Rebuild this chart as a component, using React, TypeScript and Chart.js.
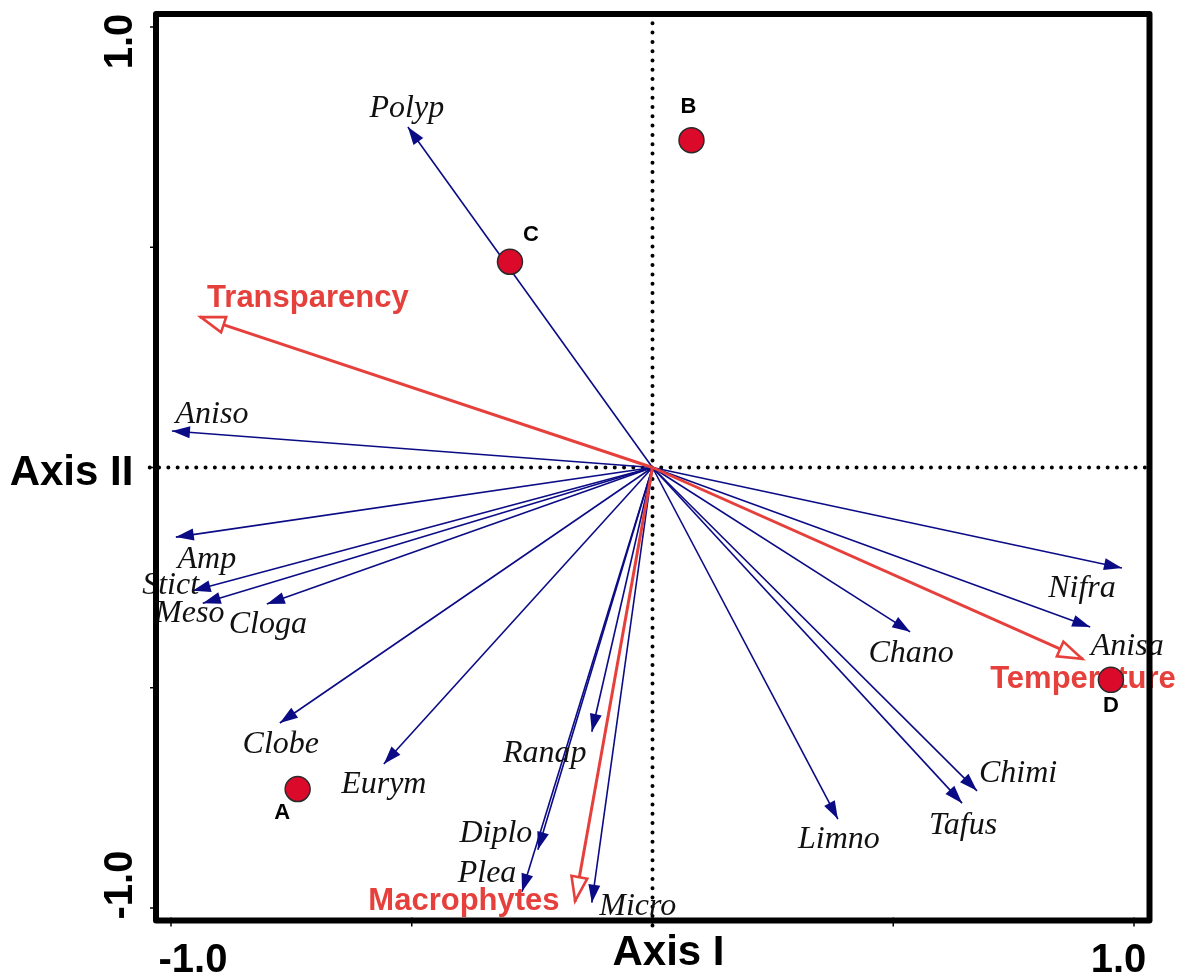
import React, { useEffect, useRef } from 'react';
import { Chart, registerables } from 'chart.js';

Chart.register(...registerables);

// ---- Data ----
const speciesNames = ['Polyp', 'Aniso', 'Amp', 'Stict', 'Meso', 'Cloga', 'Clobe', 'Eurym', 'Ranap', 'Diplo', 'Plea', 'Micro', 'Limno', 'Tafus', 'Chimi', 'Chano', 'Nifra', 'Anisa'];
const speciesAxis1 = [-0.508, -0.998, -0.990, -0.955, -0.934, -0.801, -0.774, -0.558, -0.126, -0.238, -0.271, -0.126, 0.385, 0.643, 0.674, 0.535, 0.975, 0.909];
const speciesAxis2 = [0.773, 0.083, -0.158, -0.280, -0.308, -0.310, -0.580, -0.673, -0.600, -0.868, -0.963, -0.988, -0.798, -0.762, -0.734, -0.373, -0.228, -0.362];

const envNames = ['Transparency', 'Temperature', 'Macrophytes'];
const envAxis1 = [-0.940, 0.894, -0.161];
const envAxis2 = [0.342, -0.435, -0.986];

const siteNames = ['A', 'B', 'C', 'D'];
const siteAxis1 = [-0.737, 0.081, -0.296, 0.952];
const siteAxis2 = [-0.730, 0.743, 0.467, -0.482];

const tickValues = [-1, -0.5, 0, 0.5, 1];
const tickLabelValues = [-1, 1];
const tickLabelTexts = ['-1.0', '1.0'];
const xTitle = 'Axis I';
const yTitle = 'Axis II';

// ---- Layout / style (pixel offsets of labels from their point) ----
const X_MIN = -1.03115;
const X_MAX = 1.03219;
const Y_MIN = -1.02838;
const Y_MAX = 1.02951;

const speciesLabelOffsets = [
  [-1, -10], [40, -8], [31, 31], [-22, 3], [-13, 19], [1, 29], [1, 30], [0, 29], [-47, 30],
  [-42, -8], [-35, -10], [46, 12], [1, 29], [1, 31], [41, -9], [1, 30], [-40, 29], [37, 28],
];
const envLabelOffsets = [[108, -10], [0, 29], [-111, 8]];
const siteLabelOffsets = [[-15.5, 30], [-3, -27], [21, -21], [0, 32]];

const NAVY = '#0b0b86';
const RED = '#e6403c';
const SITE_FILL = '#dc0a2a';

const biplotPlugin = {
  id: 'biplot',
  beforeDatasetDraw(chart: any, args: any) {
    const ds: any = chart.data.datasets[args.index];
    if (!ds.isSites) return;
    // species and environmental labels go under the site symbols
    const ctx = chart.ctx;
    ctx.save();
    chart.data.datasets.forEach((d: any, i: number) => {
      if (!d.arrowKind) return;
      const meta = chart.getDatasetMeta(i);
      const tip = meta.data[1];
      const off = d.labelOffset;
      ctx.textAlign = 'center';
      ctx.textBaseline = 'alphabetic';
      if (d.arrowKind === 'species') {
        ctx.font = "italic 32px 'Liberation Serif', 'DejaVu Serif', serif";
        ctx.fillStyle = '#111';
      } else {
        ctx.font = "bold 31px 'Liberation Sans', Arial, sans-serif";
        ctx.fillStyle = RED;
      }
      ctx.fillText(d.label, tip.x + off[0], tip.y + off[1]);
    });
    ctx.restore();
  },
  afterDatasetDraw(chart: any, args: any) {
    const ds: any = chart.data.datasets[args.index];
    const ctx = chart.ctx;
    if (ds.arrowKind) {
      const p0 = args.meta.data[0];
      const p1 = args.meta.data[1];
      const ang = Math.atan2(p1.y - p0.y, p1.x - p0.x);
      ctx.save();
      ctx.translate(p1.x, p1.y);
      ctx.rotate(ang);
      ctx.beginPath();
      if (ds.arrowKind === 'species') {
        ctx.moveTo(0, 0);
        ctx.lineTo(-18, -6);
        ctx.lineTo(-18, 6);
        ctx.closePath();
        ctx.fillStyle = NAVY;
        ctx.fill();
      } else {
        ctx.moveTo(-1, 0);
        ctx.lineTo(-25, -8);
        ctx.lineTo(-25, 8);
        ctx.closePath();
        ctx.fillStyle = '#fff';
        ctx.fill();
        ctx.lineWidth = 2.6;
        ctx.lineJoin = 'miter';
        ctx.strokeStyle = RED;
        ctx.stroke();
      }
      ctx.restore();
    }
    if (ds.isSites) {
      ctx.save();
      ctx.font = "bold 22px 'Liberation Sans', Arial, sans-serif";
      ctx.fillStyle = '#000';
      ctx.textAlign = 'center';
      ctx.textBaseline = 'alphabetic';
      args.meta.data.forEach((pt: any, i: number) => {
        const off = siteLabelOffsets[i];
        ctx.fillText(siteNames[i], pt.x + off[0], pt.y + off[1]);
      });
      ctx.restore();
    }
  },
  afterDraw(chart: any) {
    const ctx = chart.ctx;
    const a = chart.chartArea;
    const xs = chart.scales.x;
    const ys = chart.scales.y;
    ctx.save();
    // frame
    ctx.lineWidth = 6;
    ctx.lineJoin = 'round';
    ctx.strokeStyle = '#000';
    ctx.strokeRect(a.left, a.top, a.right - a.left, a.bottom - a.top);
    // tick marks
    ctx.lineWidth = 1.5;
    tickValues.forEach((v) => {
      const py = ys.getPixelForValue(v);
      ctx.beginPath();
      ctx.moveTo(a.left - 6, py);
      ctx.lineTo(a.left + 3, py);
      ctx.stroke();
      const px = xs.getPixelForValue(v);
      ctx.beginPath();
      ctx.moveTo(px, a.bottom - 3);
      ctx.lineTo(px, a.bottom + 6);
      ctx.stroke();
    });
    // tick labels
    ctx.fillStyle = '#000';
    ctx.font = "bold 40px 'Liberation Sans', Arial, sans-serif";
    ctx.textAlign = 'center';
    ctx.textBaseline = 'alphabetic';
    const xLabelShift = [22, -15.5];
    const yLabelShift = [-23, 14.5];
    tickLabelValues.forEach((v, i) => {
      const px = xs.getPixelForValue(v);
      ctx.fillText(tickLabelTexts[i], px + xLabelShift[i], a.bottom + 51.5);
      const py = ys.getPixelForValue(v);
      ctx.save();
      ctx.translate(a.left - 24, py + yLabelShift[i]);
      ctx.rotate(-Math.PI / 2);
      ctx.fillText(tickLabelTexts[i], 0, 0);
      ctx.restore();
    });
    // axis titles
    ctx.font = "bold 42px 'Liberation Sans', Arial, sans-serif";
    ctx.fillText(xTitle, xs.getPixelForValue(0) + 16, a.bottom + 44.5);
    ctx.fillText(yTitle, 71.5, ys.getPixelForValue(0) + 17.5);
    ctx.restore();
  },
};

export default function App() {
  const canvasRef = useRef<HTMLCanvasElement | null>(null);

  useEffect(() => {
    document.body.style.margin = '0';
    const canvas = canvasRef.current;
    if (!canvas) return;

    const zeroLineStyle = {
      showLine: true,
      pointRadius: 0,
      borderColor: '#000',
      borderWidth: 4,
      borderDash: [0, 9.3],
      borderCapStyle: 'round',
      clip: false,
      order: 3,
    };

    const datasets: any[] = [
      {
        ...zeroLineStyle,
        label: 'h0',
        data: [{ x: X_MIN - 0.013, y: 0 }, { x: X_MAX, y: 0 }],
      },
      {
        ...zeroLineStyle,
        label: 'v0',
        data: [{ x: 0, y: Y_MAX }, { x: 0, y: Y_MIN - 0.016 }],
      },
    ];

    speciesNames.forEach((name, i) => {
      datasets.push({
        label: name,
        arrowKind: 'species',
        labelOffset: speciesLabelOffsets[i],
        data: [{ x: 0, y: 0 }, { x: speciesAxis1[i], y: speciesAxis2[i] }],
        showLine: true,
        pointRadius: 0,
        borderColor: NAVY,
        borderWidth: 1.6,
        order: 2,
      });
    });

    envNames.forEach((name, i) => {
      datasets.push({
        label: name,
        arrowKind: 'env',
        labelOffset: envLabelOffsets[i],
        data: [{ x: 0, y: 0 }, { x: envAxis1[i], y: envAxis2[i] }],
        showLine: true,
        pointRadius: 0,
        borderColor: RED,
        borderWidth: 3,
        order: 1,
      });
    });

    datasets.push({
      label: 'Sites',
      isSites: true,
      data: siteNames.map((_, i) => ({ x: siteAxis1[i], y: siteAxis2[i] })),
      showLine: false,
      pointRadius: 12.5,
      pointBackgroundColor: SITE_FILL,
      pointBorderColor: '#2a2a2a',
      pointBorderWidth: 1.5,
      order: 0,
    });

    const chart = new Chart(canvas, {
      type: 'scatter',
      data: { datasets },
      options: {
        responsive: false,
        animation: false,
        devicePixelRatio: 1,
        events: [],
        layout: { padding: { left: 156, right: 38.5, top: 14, bottom: 55.5 } },
        scales: {
          x: { type: 'linear', min: X_MIN, max: X_MAX, display: false },
          y: { type: 'linear', min: Y_MIN, max: Y_MAX, display: false },
        },
        plugins: {
          legend: { display: false },
          tooltip: { enabled: false },
        },
      } as any,
      plugins: [biplotPlugin as any],
    });

    return () => chart.destroy();
  }, []);

  return (
    <div style={{ position: 'absolute', left: 0, top: 0, width: 1188, height: 976, background: '#fff' }}>
      <canvas ref={canvasRef} width={1188} height={976} />
    </div>
  );
}
